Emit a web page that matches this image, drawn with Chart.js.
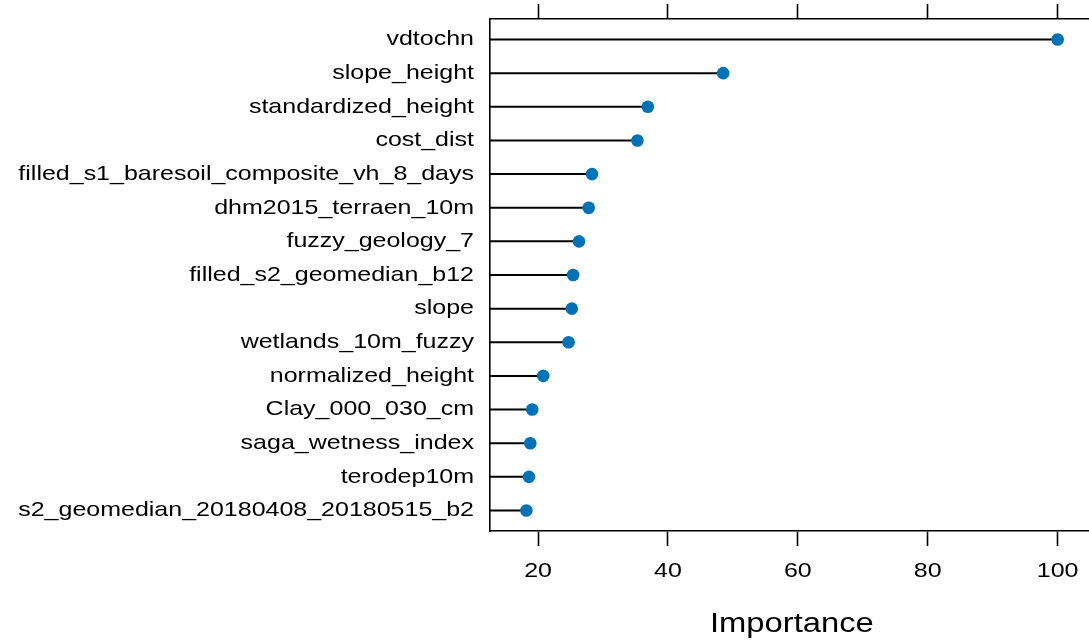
<!DOCTYPE html>
<html>
<head>
<meta charset="utf-8">
<script src="https://cdn.jsdelivr.net/npm/chart.js@4/dist/chart.umd.min.js"></script>
<style>
  html, body { margin: 0; padding: 0; background: #fff; overflow: hidden; }
  #wrap { position: relative; width: 1100px; height: 641px; }
</style>
</head>
<body>
<div id="wrap"><canvas id="chart"></canvas></div>
<script>
// Variable importance, most important first
const variables = [
  "vdtochn",
  "slope_height",
  "standardized_height",
  "cost_dist",
  "filled_s1_baresoil_composite_vh_8_days",
  "dhm2015_terraen_10m",
  "fuzzy_geology_7",
  "filled_s2_geomedian_b12",
  "slope",
  "wetlands_10m_fuzzy",
  "normalized_height",
  "Clay_000_030_cm",
  "saga_wetness_index",
  "terodep10m",
  "s2_geomedian_20180408_20180515_b2"
];
const importance = [
  100, 48.5, 36.9, 35.3, 28.3, 27.8, 26.3, 25.4, 25.2, 24.7,
  20.8, 19.1, 18.8, 18.6, 18.2
];
const tickValues = [20, 40, 60, 80, 100];
const xMin = 12.6;
const xMax = 105.55;

// Slightly wide glyph rendering for every piece of chart text
const WIDE = 1.19;
const proto = CanvasRenderingContext2D.prototype;
const baseFill = proto.fillText;
const baseMeasure = proto.measureText;
proto.fillText = function (text, x, y) {
  this.save();
  this.translate(x, y);
  this.scale(WIDE, 1);
  baseFill.call(this, text, 0, 0);
  this.restore();
};
proto.measureText = function (text) {
  const m = baseMeasure.call(this, text);
  return {
    width: m.width * WIDE,
    actualBoundingBoxLeft: m.actualBoundingBoxLeft * WIDE,
    actualBoundingBoxRight: m.actualBoundingBoxRight * WIDE,
    actualBoundingBoxAscent: m.actualBoundingBoxAscent,
    actualBoundingBoxDescent: m.actualBoundingBoxDescent,
    fontBoundingBoxAscent: m.fontBoundingBoxAscent,
    fontBoundingBoxDescent: m.fontBoundingBoxDescent
  };
};

// Stems run from the left edge of the panel to each dot
const stems = [];
importance.forEach((v, i) => {
  stems.push({ x: xMin, y: i + 1 });
  stems.push({ x: v, y: i + 1 });
  stems.push({ x: null, y: null });
});
const dots = importance.map((v, i) => ({ x: v, y: i + 1 }));

Chart.defaults.font.family = "'Liberation Sans', Arial, sans-serif";
Chart.defaults.color = "#000";

const setTicks = scale => { scale.ticks = tickValues.map(v => ({ value: v })); };
const fixHeight = h => s => {
  s.height = h;
  s.paddingLeft = 0;
  s.paddingRight = 0;
};

new Chart(document.getElementById("chart"), {
  type: "scatter",
  data: {
    datasets: [
      {
        data: dots,
        order: 0,
        pointRadius: 6.3,
        pointHoverRadius: 6.3,
        pointBackgroundColor: "#0072B5",
        pointBorderWidth: 0,
        showLine: false
      },
      {
        data: stems,
        order: 1,
        showLine: true,
        spanGaps: false,
        borderColor: "#000",
        borderWidth: 2,
        pointRadius: 0,
        pointHoverRadius: 0
      }
    ]
  },
  options: {
    responsive: true,
    maintainAspectRatio: false,
    animation: false,
    events: [],
    layout: { padding: { left: 0, right: 3, top: 0, bottom: 0 } },
    plugins: { legend: { display: false }, tooltip: { enabled: false } },
    scales: {
      x: {
        type: "linear",
        position: "bottom",
        min: xMin,
        max: xMax,
        afterBuildTicks: setTicks,
        afterFit: fixHeight(110),
        border: { display: true, color: "#000", width: 1.6 },
        grid: {
          drawOnChartArea: false,
          drawTicks: true,
          tickLength: 15,
          tickWidth: 1.6,
          tickColor: "#000"
        },
        ticks: {
          font: { size: 21 },
          color: "#000",
          padding: 13,
          maxRotation: 0,
          autoSkip: false
        },
        title: {
          display: true,
          text: "Importance",
          font: { size: 27.5 },
          color: "#000",
          padding: { top: 1, bottom: 0 }
        }
      },
      xTop: {
        type: "linear",
        position: "top",
        min: xMin,
        max: xMax,
        afterBuildTicks: setTicks,
        afterFit: fixHeight(19),
        border: { display: true, color: "#000", width: 1.6 },
        grid: {
          drawOnChartArea: false,
          drawTicks: true,
          tickLength: 15,
          tickWidth: 1.6,
          tickColor: "#000"
        },
        ticks: { display: false }
      },
      y: {
        type: "linear",
        reverse: true,
        min: 0.39,
        max: 15.61,
        afterBuildTicks: s => { s.ticks = variables.map((_, i) => ({ value: i + 1 })); },
        afterFit: s => {
          s.width = 490;
          s.paddingTop = 0;
          s.paddingBottom = 0;
        },
        border: { display: true, color: "#000", width: 1.6 },
        grid: { drawOnChartArea: false, drawTicks: false },
        ticks: {
          font: { size: 21 },
          color: "#000",
          padding: 16,
          autoSkip: false,
          callback: v => variables[v - 1]
        }
      }
    }
  }
});
</script>
</body>
</html>
